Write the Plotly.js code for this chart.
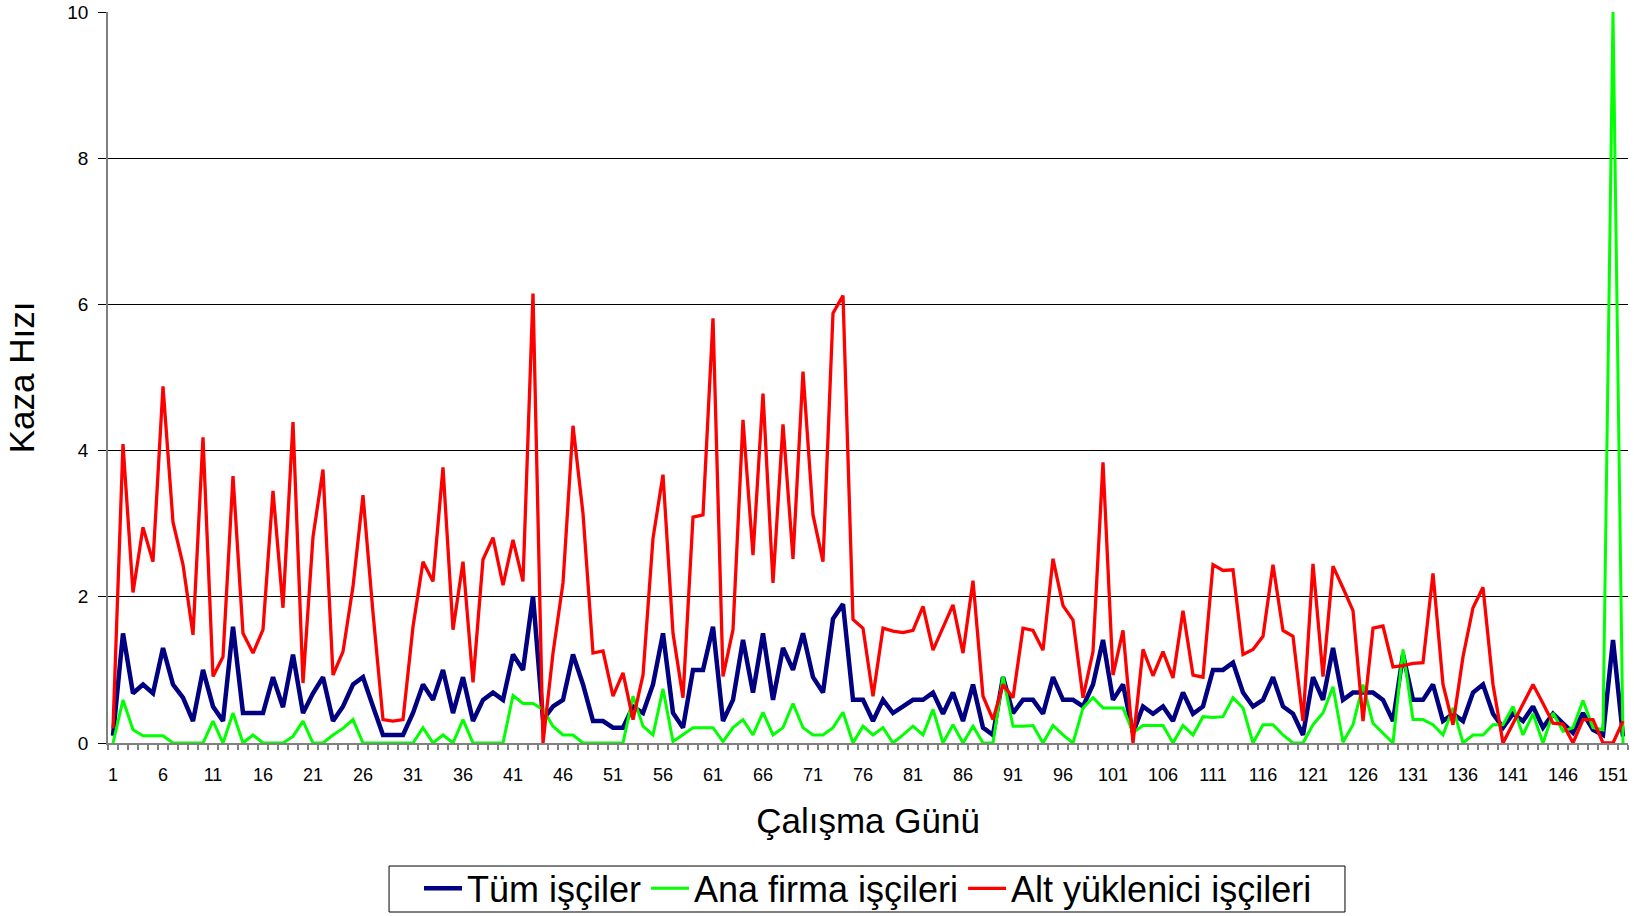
<!DOCTYPE html>
<html>
<head>
<meta charset="utf-8">
<script src="https://cdn.plot.ly/plotly-3.0.1.min.js"></script>
<style>html,body{margin:0;padding:0;background:#fff;}#chart{width:1634px;height:916px;}</style>
</head>
<body>
<div id="chart"></div>
<script>
// Çalışma günleri (1..152)
const days = Array.from({length: 152}, (_, i) => i + 1);

const tickVals = [1,6,11,16,21,26,31,36,41,46,51,56,61,66,71,76,81,86,91,96,101,106,111,116,121,126,131,136,141,146,151];
const tickLabels = ['1','6','11','16','21','26','31','36','41','46','51','56','61','66','71','76','81','86','91','96','101','106','111','116','121','126','131','136','141','146','151'];

const seriesNames = ['Tüm işçiler', 'Ana firma işçileri', 'Alt yüklenici işçileri'];

const tumIsciler = [
  0.1,1.5,0.68,0.8,0.68,1.3,0.8,0.62,0.3,1.0,
  0.5,0.3,1.59,0.41,0.41,0.41,0.9,0.49,1.21,0.41,
  0.68,0.9,0.3,0.5,0.8,0.9,0.5,0.11,0.11,0.11,
  0.41,0.8,0.59,1.0,0.41,0.9,0.3,0.59,0.69,0.59,
  1.21,1.0,2.01,0.32,0.5,0.59,1.21,0.8,0.3,0.3,
  0.21,0.21,0.5,0.41,0.8,1.5,0.41,0.21,1.0,1.0,
  1.59,0.3,0.59,1.41,0.69,1.5,0.59,1.3,1.0,1.5,
  0.9,0.69,1.7,1.9,0.59,0.59,0.3,0.59,0.41,0.5,
  0.59,0.59,0.69,0.4,0.69,0.3,0.8,0.21,0.11,0.9,
  0.41,0.59,0.59,0.4,0.9,0.59,0.59,0.5,0.8,1.41,
  0.59,0.8,0.14,0.5,0.4,0.5,0.3,0.69,0.4,0.5,
  1.0,1.0,1.1,0.69,0.5,0.59,0.9,0.5,0.4,0.11,
  0.9,0.59,1.3,0.59,0.69,0.69,0.69,0.59,0.3,1.21,
  0.59,0.59,0.8,0.3,0.4,0.3,0.69,0.8,0.4,0.21,
  0.4,0.3,0.5,0.21,0.4,0.27,0.14,0.41,0.18,0.11,
  1.41,0.09
];

const anaFirma = [
  0,0.59,0.18,0.1,0.1,0.1,0,0,0,0,
  0.3,0,0.41,0,0.11,0,0,0,0.09,0.3,
  0,0,0.11,0.2,0.32,0,0,0,0,0,
  0,0.21,0,0.11,0,0.32,0,0,0,0,
  0.65,0.54,0.54,0.46,0.23,0.11,0.11,0,0,0,
  0,0,0.64,0.23,0.11,0.74,0.02,0.11,0.21,0.21,
  0.21,0.02,0.21,0.32,0.11,0.42,0.11,0.21,0.54,0.21,
  0.11,0.11,0.21,0.42,0,0.23,0.11,0.21,0,0.11,
  0.23,0.11,0.46,0,0.25,0,0.23,0,0,0.91,
  0.23,0.23,0.24,0,0.24,0.11,0,0.48,0.62,0.48,
  0.48,0.48,0.14,0.24,0.24,0.24,0,0.24,0.11,0.36,
  0.35,0.36,0.62,0.48,0,0.25,0.25,0.11,0,0,
  0.25,0.41,0.77,0.01,0.25,0.8,0.27,0.14,0,1.28,
  0.32,0.32,0.25,0.11,0.48,0,0.11,0.11,0.25,0.25,
  0.5,0.11,0.4,0,0.41,0.16,0.21,0.58,0.21,0.18,
  10,0
];

const altYuklenici = [
  0.2,4.09,2.06,2.95,2.48,4.88,3.02,2.44,1.48,4.18,
  0.91,1.18,3.65,1.5,1.23,1.55,3.45,1.85,4.39,0.82,
  2.82,3.74,0.93,1.25,2.14,3.39,1.78,0.32,0.3,0.32,
  1.59,2.48,2.21,3.77,1.55,2.48,0.83,2.51,2.81,2.16,
  2.78,2.21,6.15,0,1.23,2.19,4.34,3.14,1.23,1.26,
  0.64,0.96,0.32,0.93,2.8,3.67,1.5,0.62,3.09,3.12,
  5.81,0.91,1.55,4.42,2.57,4.78,2.19,4.36,2.52,5.08,
  3.12,2.48,5.88,6.12,1.69,1.57,0.64,1.57,1.53,1.51,
  1.54,1.87,1.27,1.57,1.89,1.23,2.22,0.64,0.32,0.8,
  0.62,1.57,1.54,1.27,2.52,1.88,1.68,0.62,1.25,3.84,
  0.93,1.54,0,1.28,0.92,1.25,0.89,1.81,0.93,0.9,
  2.44,2.36,2.37,1.21,1.28,1.46,2.44,1.54,1.46,0.3,
  2.45,0.91,2.42,2.12,1.81,0.3,1.57,1.6,1.04,1.06,
  1.09,1.1,2.32,0.8,0.25,1.18,1.85,2.13,0.8,0,
  0.27,0.54,0.8,0.54,0.27,0.26,0,0.32,0.32,0,
  0,0.3
];

const FONT = 'Liberation Sans, Arial, Helvetica, sans-serif';

const traces = [
  {x: days, y: tumIsciler, name: seriesNames[0], type: 'scatter', mode: 'lines',
   line: {color: '#000080', width: 4.5}},
  {x: days, y: anaFirma, name: seriesNames[1], type: 'scatter', mode: 'lines',
   line: {color: '#00FF00', width: 3}},
  {x: days, y: altYuklenici, name: seriesNames[2], type: 'scatter', mode: 'lines',
   line: {color: '#FF0000', width: 3.3}}
];

const layout = {
  width: 1634, height: 916,
  margin: {l: 108, r: 6, t: 12, b: 173, autoexpand: false},
  paper_bgcolor: '#ffffff', plot_bgcolor: '#ffffff',
  font: {family: FONT, color: '#000000'},
  showlegend: true,
  legend: {
    orientation: 'h', x: 0.5, xanchor: 'center', y: -0.199, yanchor: 'middle',
    borderwidth: 0, bgcolor: 'rgba(0,0,0,0)', itemwidth: 38,
    font: {family: FONT, size: 36, color: '#000000'}
  },
  shapes: [{
    type: 'rect', xref: 'paper', yref: 'paper',
    x0: 0.1849, x1: 0.8138, y0: -0.1683, y1: -0.2312,
    line: {color: '#000000', width: 1}, fillcolor: 'rgba(0,0,0,0)', layer: 'above'
  }],
  xaxis: {
    range: [0.5, 152.5], automargin: false,
    tickmode: 'array', tickvals: tickVals, ticktext: tickLabels,
    ticks: '', showgrid: false, zeroline: false,
    showline: true, linecolor: '#808080', linewidth: 1.5,
    tickfont: {family: FONT, size: 18, color: '#000000'},
    ticklabelstandoff: 15,
    minor: {tickmode: 'linear', tick0: 0.5, dtick: 1, ticks: 'outside', ticklen: 5,
            tickcolor: '#808080', tickwidth: 1.5, showgrid: false},
    title: {text: 'Çalışma Günü', font: {family: FONT, size: 35, color: '#000000'}, standoff: 24}
  },
  yaxis: {
    range: [0, 10], tickmode: 'linear', tick0: 0, dtick: 2, automargin: false,
    ticks: 'outside', ticklen: 8, tickcolor: '#000000', tickwidth: 1,
    showgrid: true, gridcolor: '#000000', gridwidth: 1,
    zeroline: false, showline: true, linecolor: '#808080', linewidth: 1.5,
    tickfont: {family: FONT, size: 19, color: '#000000'},
    ticklabelstandoff: 6,
    title: {text: 'Kaza Hızı', font: {family: FONT, size: 35, color: '#000000'}, standoff: 22}
  }
};

Plotly.newPlot('chart', traces, layout, {displayModeBar: false, responsive: false});
</script>
</body>
</html>
